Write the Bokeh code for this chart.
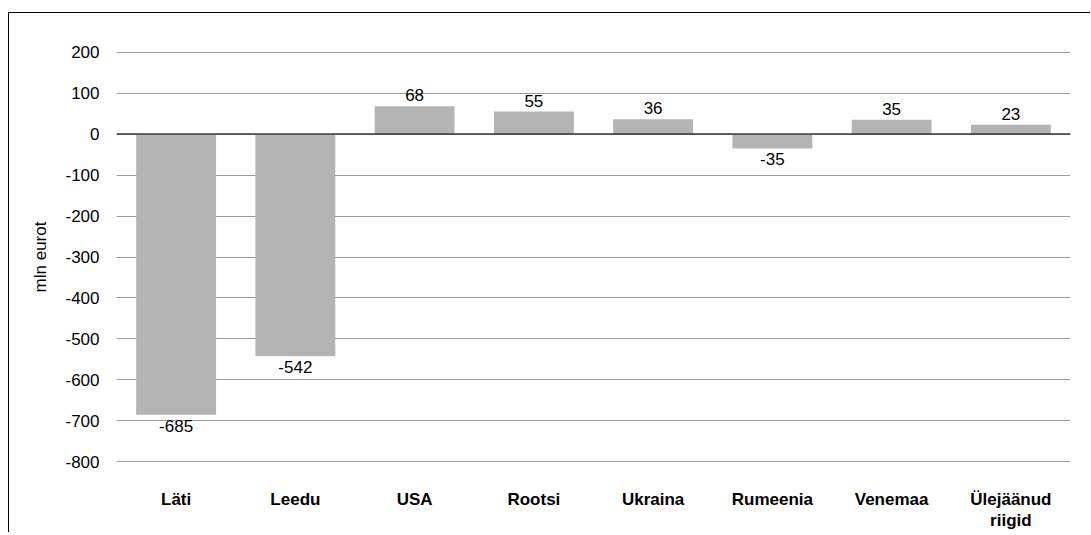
from bokeh.plotting import figure
from bokeh.models import ColumnDataSource, LabelSet, Span, FixedTicker
from bokeh.core.properties import value
from bokeh.embed import file_html
from bokeh.resources import INLINE

categories = ["Läti", "Leedu", "USA", "Rootsi", "Ukraina", "Rumeenia", "Venemaa", "Ülejäänud\nriigid"]
values = [-685, -542, 68, 55, 36, -35, 35, 23]
y_ticks = [200, 100, 0, -100, -200, -300, -400, -500, -600, -700, -800]
y_label = "mln eurot"

FONT = "Liberation Sans"

src = ColumnDataSource(dict(cat=categories, val=values))
pos = ColumnDataSource(dict(cat=[c for c, v in zip(categories, values) if v >= 0],
                            val=[v for v in values if v >= 0],
                            txt=[str(v) for v in values if v >= 0]))
neg = ColumnDataSource(dict(cat=[c for c, v in zip(categories, values) if v < 0],
                            val=[v for v in values if v < 0],
                            txt=[str(v) for v in values if v < 0]))

p = figure(x_range=categories, y_range=(-801.5, 201.5), width=1082, height=520,
           output_backend="svg", toolbar_location=None,
           min_border_left=107, min_border_right=21, min_border_top=38, min_border_bottom=65)
p.styles = {"border-top": "1px solid #000", "border-left": "1px solid #000",
            "margin-top": "12px", "margin-left": "8px"}

p.vbar(x="cat", top="val", bottom=0, width=0.67, source=src, color="#b4b4b4", line_color=None)

p.add_layout(Span(location=0, dimension="width", line_color="#3a3a3a", line_width=1.5))

p.add_layout(LabelSet(x="cat", y="val", text="txt", source=pos, text_align="center",
                      text_baseline="bottom", y_offset=5, text_font=value(FONT),
                      text_font_size="17px", text_color="#000"))
p.add_layout(LabelSet(x="cat", y="val", text="txt", source=neg, text_align="center",
                      text_baseline="top", y_offset=-5, text_font=value(FONT),
                      text_font_size="17px", text_color="#000"))

p.outline_line_color = None
p.xgrid.grid_line_color = None
p.ygrid.grid_line_color = "#9a9a9a"
p.ygrid.grid_line_width = 1
p.ygrid.ticker = FixedTicker(ticks=y_ticks)

p.yaxis.ticker = FixedTicker(ticks=y_ticks)
p.yaxis.major_label_overrides = {t: str(t) for t in y_ticks}
p.yaxis.axis_line_color = None
p.yaxis.major_tick_line_color = None
p.yaxis.minor_tick_line_color = None
p.yaxis.major_label_standoff = 11
p.yaxis.major_label_text_font = FONT
p.yaxis.major_label_text_font_size = "17px"
p.yaxis.major_label_text_color = "#000"
p.yaxis.axis_label = y_label
p.yaxis.axis_label_text_font = FONT
p.yaxis.axis_label_text_font_size = "17px"
p.yaxis.axis_label_text_font_style = "normal"
p.yaxis.axis_label_text_color = "#000"
p.yaxis.axis_label_standoff = 12

p.xaxis.axis_line_color = None
p.xaxis.major_tick_line_color = None
p.xaxis.minor_tick_line_color = None
p.xaxis.major_label_standoff = 21
p.xaxis.major_label_text_font = FONT
p.xaxis.major_label_text_font_size = "17px"
p.xaxis.major_label_text_font_style = "bold"
p.xaxis.major_label_text_color = "#000"
p.xaxis.major_label_text_line_height = 1.15

open("out.html", "w").write(file_html(p, INLINE))
